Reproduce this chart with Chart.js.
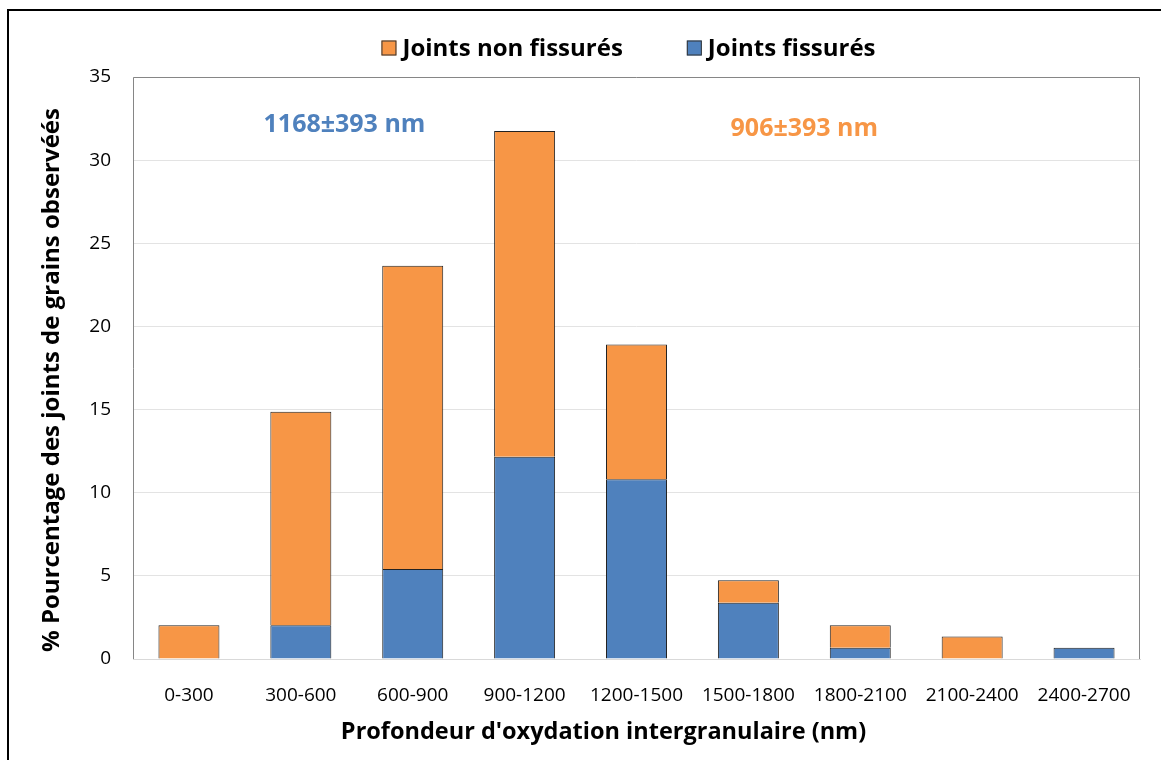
<!DOCTYPE html>
<html>
<head>
<meta charset="utf-8">
<script src="https://cdn.jsdelivr.net/npm/chart.js@4.4.1/dist/chart.umd.min.js"></script>
<style>
    html, body { margin: 0; padding: 0; background: #fff; overflow: hidden; }
    #frame {
        position: absolute; left: 7px; top: 9px;
        width: 1400px; height: 1000px;
        border: 2px solid #000;
    }
    #wrap { position: absolute; left: 0; top: 0; width: 1161px; height: 760px; }
</style>
</head>
<body>
<div id="frame"></div>
<div id="wrap"><canvas id="chart"></canvas></div>
<script>
const categories  = ["0-300", "300-600", "600-900", "900-1200", "1200-1500", "1500-1800", "1800-2100", "2100-2400", "2400-2700"];
const fissures    = [0, 2.03, 5.41, 12.16, 10.81, 3.38, 0.68, 0, 0.68];
const nonFissures = [2.03, 12.84, 18.24, 19.59, 8.11, 1.35, 1.35, 1.35, 0];
const yTicks      = [0, 5, 10, 15, 20, 25, 30, 35];

const xTitle = "Profondeur d'oxydation intergranulaire (nm)";
const yTitle = "% Pourcentage des joints de grains observéés";

const BLUE   = "#4F81BD";
const ORANGE = "#F79646";
const FONT   = "'Open Sans', sans-serif";

// mean depth notes written inside the plot
const notes = [
    { text: "1168±393 nm", color: BLUE,   x: 1.39, y: 32.1 },
    { text: "906±393 nm",  color: ORANGE, x: 5.5,  y: 31.9 },
];

// plot frame: grey on top, left and right
const frameBox = {
    id: "frameBox",
    afterDraw(chart) {
        const { ctx, chartArea: a } = chart;
        ctx.save();
        ctx.strokeStyle = "#868686";
        ctx.lineWidth = 1;
        ctx.beginPath();
        ctx.moveTo(a.left + 0.5, a.bottom);
        ctx.lineTo(a.left + 0.5, a.top + 0.5);
        ctx.lineTo(a.right - 0.5, a.top + 0.5);
        ctx.lineTo(a.right - 0.5, a.bottom);
        ctx.stroke();
        ctx.restore();
    }
};

const noteText = {
    id: "noteText",
    afterDatasetsDraw(chart) {
        const { ctx, scales: { x, y } } = chart;
        ctx.save();
        ctx.font = `bold 25px ${FONT}`;
        ctx.textAlign = "center";
        ctx.textBaseline = "middle";
        notes.forEach(n => {
            ctx.fillStyle = n.color;
            ctx.fillText(n.text, x.getPixelForValue(n.x), y.getPixelForValue(n.y));
        });
        ctx.restore();
    }
};

// axis titles, set a little off the plot centre like the original sheet
const axisTitles = {
    id: "axisTitles",
    afterDraw(chart) {
        const { ctx, chartArea: a } = chart;
        ctx.save();
        ctx.fillStyle = "#000";
        ctx.textAlign = "center";
        ctx.textBaseline = "middle";
        ctx.font = `bold 23.5px ${FONT}`;
        ctx.fillText(xTitle, (a.left + a.right) / 2 - 33, a.bottom + 73);
        ctx.font = `bold 24px ${FONT}`;
        ctx.translate(52, (a.top + a.bottom) / 2 + 12);
        ctx.rotate(-Math.PI / 2);
        ctx.fillText(yTitle, 0, 0);
        ctx.restore();
    }
};

// legend row above the plot, "non fissurés" first
const topLegend = {
    id: "topLegend",
    afterDraw(chart) {
        const { ctx, chartArea: a } = chart;
        const items = chart.data.datasets.slice().reverse();
        const box = 15, gap = 6, spacing = 64, cy = 48;
        ctx.save();
        ctx.font = `bold 24px ${FONT}`;
        ctx.textBaseline = "middle";
        const widths = items.map(d => ctx.measureText(d.label).width);
        const total = widths.reduce((s, w) => s + box + gap + w, 0) + spacing * (items.length - 1);
        let x = (a.left + a.right) / 2 - 8 - total / 2;
        items.forEach((d, i) => {
            ctx.fillStyle = d.backgroundColor;
            ctx.fillRect(x, cy - box / 2, box, box);
            ctx.strokeStyle = "#333";
            ctx.lineWidth = 1;
            ctx.strokeRect(x + 0.5, cy - box / 2 + 0.5, box - 1, box - 1);
            ctx.fillStyle = "#000";
            ctx.fillText(d.label, x + box + gap, cy + 1);
            x += box + gap + widths[i] + spacing;
        });
        ctx.restore();
    }
};

new Chart(document.getElementById("chart"), {
    type: "bar",
    data: {
        labels: categories,
        datasets: [
            {
                label: "Joints fissurés",
                data: fissures,
                backgroundColor: BLUE,
                borderColor: "#222",
                borderWidth: 1,
                barPercentage: 1,
                categoryPercentage: 0.545,
            },
            {
                label: "Joints non fissurés",
                data: nonFissures,
                backgroundColor: ORANGE,
                borderColor: "#222",
                borderWidth: 1,
                barPercentage: 1,
                categoryPercentage: 0.545,
            }
        ]
    },
    options: {
        responsive: true,
        maintainAspectRatio: false,
        devicePixelRatio: 1,
        animation: false,
        layout: { padding: { top: 77, right: 21, left: 0, bottom: 0 } },
        plugins: {
            legend: { display: false },
            tooltip: { enabled: false }
        },
        scales: {
            x: {
                stacked: true,
                grid: { display: false },
                border: { color: "#d9d9d9" },
                ticks: { color: "#000", padding: 17, font: { family: FONT, size: 19 } },
                afterFit: s => { s.height = 101; }
            },
            y: {
                stacked: true,
                min: 0,
                max: 35,
                afterBuildTicks: s => { s.ticks = yTicks.map(v => ({ value: v })); },
                grid: { color: "#e3e3e3", drawTicks: false },
                border: { display: false },
                ticks: { color: "#000", padding: 22, font: { family: FONT, size: 19 } },
                afterFit: s => { s.width = 133; }
            }
        }
    },
    plugins: [frameBox, noteText, axisTitles, topLegend]
});
</script>
</body>
</html>
